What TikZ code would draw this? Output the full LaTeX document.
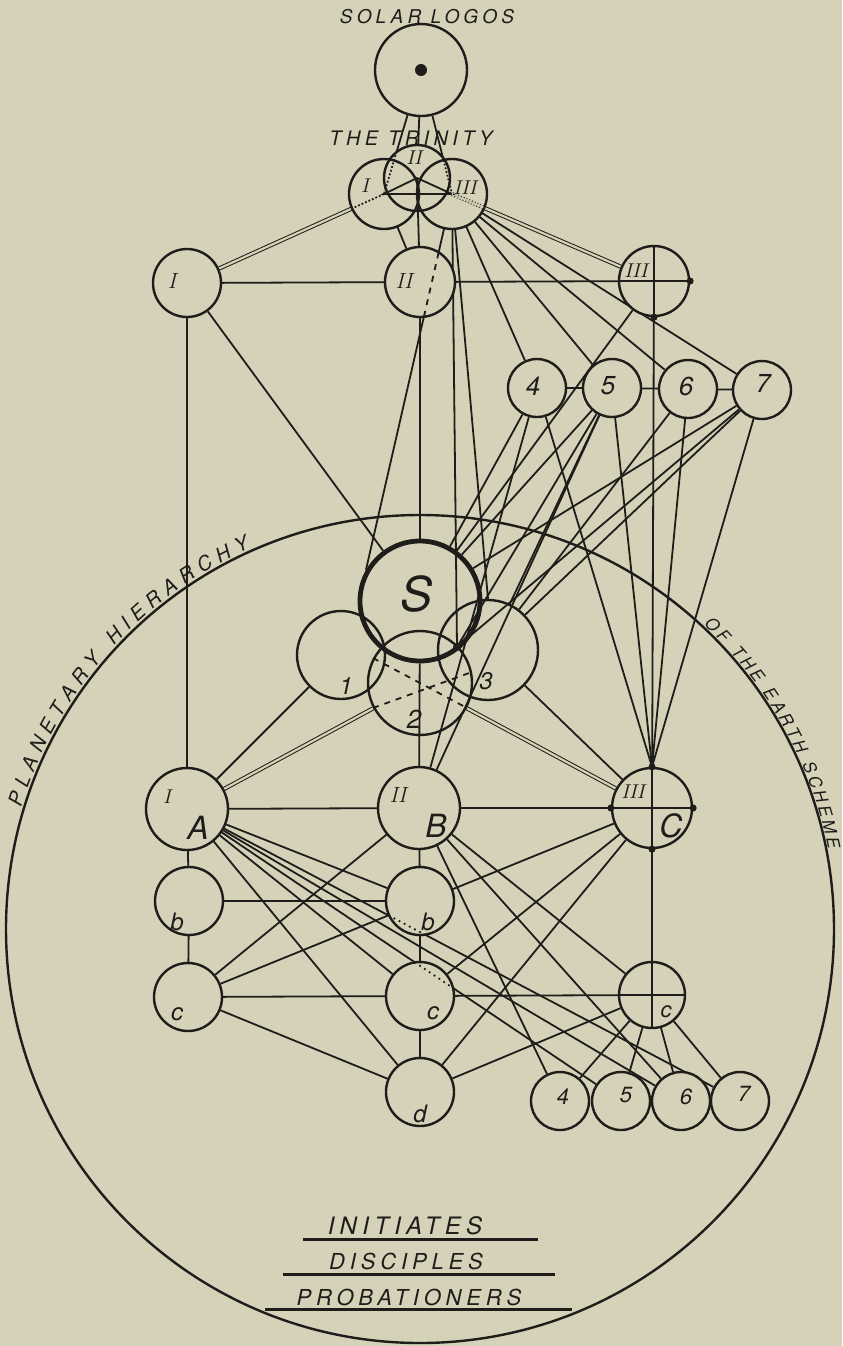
\documentclass[tikz,border=0pt]{standalone}
\usepackage{fontspec}
\newfontfamily\hand{TeX Gyre Heros}[LetterSpace=22]
\newfontfamily\glyph{TeX Gyre Heros}
\usetikzlibrary{decorations.text}
\definecolor{paper}{RGB}{213,210,185}
\definecolor{ink}{RGB}{30,29,25}
\pgfdeclarelayer{sheet}
\pgfdeclarelayer{wires}
\pgfdeclarelayer{veil}
\pgfsetlayers{sheet,wires,veil,main}
\tikzset{
  orb/.style={circle,draw=ink,fill=paper,line width=1.2pt,inner sep=0pt,minimum size=#1},
  ring/.style={circle,draw=ink,line width=1.2pt,inner sep=0pt,minimum size=#1},
  wire/.style={draw=ink,line width=0.9pt},
  twin/.style={draw=ink,line width=0.5pt,double=paper,double distance=1.1pt},
  hub/.style={circle,fill=ink,inner sep=0pt,minimum size=#1},
  tag/.style={text=ink,inner sep=0pt,font=\glyph\itshape\fontsize{#1}{#1}\selectfont},
  numeral/.style={text=ink,inner sep=0pt,font=\rmfamily\itshape\fontsize{#1}{#1}\selectfont},
  caption/.style={text=ink,inner sep=0pt,font=\hand\itshape\fontsize{#1}{#1}\selectfont}
}
\begin{document}
\begin{tikzpicture}[x=0.5pt,y=0.5pt]
  \useasboundingbox (0,0) rectangle (842,-1346);
  \begin{pgfonlayer}{sheet}
    \fill[paper] (0,0) rectangle (842,-1346);
    \draw[ink,line width=1.2pt] (420,-929) circle[radius=414];
    \path[decorate,decoration={text along path,text align=fit to path,raise=1.5pt,text color=ink,
      text={|\glyph\itshape\fontsize{10pt}{10pt}\selectfont|PLANETARY HIERARCHY}}]
      (24.1,-808) arc[start angle=163,end angle=114,radius=414];
    \path[decorate,decoration={text along path,text align=fit to path,raise=1pt,text color=ink,
      text={|\glyph\itshape\fontsize{8.5pt}{8.5pt}\selectfont|OF THE EARTH SCHEME}}]
      (702.3,-626.2) arc[start angle=47,end angle=11,radius=414];
  \end{pgfonlayer}

  \node[orb=46pt] (sol) at (421,-70) {};
  \node[hub=6pt] (core) at (421,-70) {};
  \foreach \n/\x/\y/\r in {tri1/384/194/35,tri2/417/178/33,tri3/452/194/35}
    \node[ring=\r pt] (\n) at (\x,-\y) {};
  \foreach \n/\x/\y/\r in {n1/187/283/34,n2/420/282/35,n3/654/281/35,
      r4/537/388/29,r5/612/388/29,r6/688/389/29,r7/762/390/29,
      a/187/809/41,b/419/808/41,c/652/808/40,
      bl/189/901/34,bc/420/901/34,cl/188/997/34,cc/420/996/34,cr/652/995/33,d/420/1092/34,
      s4/560/1101/29,s5/621/1101/29,s6/681/1101/29,s7/740/1101/29}
    \node[orb=\r pt] (\n) at (\x,-\y) {};
  \node[ring=60pt,line width=2.4pt] (s) at (420,-601) {};
  \foreach \n/\x/\y/\r in {c1/341/655/44,c3/488/650/50,c2/420/683/52}
    \node[ring=\r pt] (\n) at (\x,-\y) {};
  \coordinate (jn) at (457,-647);

  \begin{pgfonlayer}{wires}
    \foreach \t in {tri1,tri2,tri3} \draw[wire] (sol) -- (\t.center);
    \draw[twin] (tri1.center) -- (n1);
    \draw[twin] (tri3.center) -- (n3);
    \draw[wire] (tri1.center) -- (n2);
    \foreach \t in {r4,r5,r6,r7,s.150,jn,c3.north} \draw[wire] (tri3.center) -- (\t);
    \foreach \p/\q in {n1/n2,n2/n3,n1/a,n1/s,n2/s,n3/s,n3/c,r4/r5,r5/r6,r6/r7,
        r4/b,r4/s,r5/s,r5/jn,r5/c3,r5/b,r6/c3,r7/s,r7/jn,r7/c3,s/b,c1/a,c3/c,
        a/b,b/c,a/bl,bl/cl,bl/bc,b/bc,bc/cc,cc/d,cl/cc,cc/cr,c/cr,cl/d,d/cr,d/c,
        cl/b,cl/c,c/cc,a/bc,a/cc,a/d,a/s5,a/s6,a/s7,b/s4,b/s6,b/cr,cr/s4,cr/s5,cr/s6,cr/s7}
      \draw[wire] (\p) -- (\q);
    \foreach \r in {r4,r5,r6,r7} \draw[wire] (\r) -- (c.north);
    \draw[twin] (c2) -- (a);
    \draw[twin] (c2) -- (c);
  \end{pgfonlayer}

  \begin{pgfonlayer}{veil}
    \fill[paper] (tri1.center) circle[radius=35] (tri2.center) circle[radius=33] (tri3.center) circle[radius=35];
  \end{pgfonlayer}

  \draw[wire] (tri1.center) -- (tri2.center) -- (tri3.center) -- cycle;
  \draw[wire] (tri2.center) -- (n2);
  \begin{scope}
    \clip (tri1.center) circle[radius=35] (tri2.center) circle[radius=33] (tri3.center) circle[radius=35];
    \draw[wire,densely dotted] (sol) -- (tri1.center) (sol) -- (tri3.center);
    \draw[wire,densely dotted] (tri1.center) -- (n1);
    \draw[twin,densely dotted] (tri3.center) -- (n3);
  \end{scope}
  \begin{scope}
    \clip (n2.center) circle[radius=35];
    \draw[wire,dashed] (tri3.center) -- (s.150);
  \end{scope}
  \begin{scope}
    \clip (bc.center) circle[radius=34];
    \draw[wire,dotted] (a) -- (s7);
  \end{scope}
  \begin{scope}
    \clip (cc.center) circle[radius=34];
    \draw[wire,dotted] (a) -- (s5);
  \end{scope}
  \draw[wire,dashed] (c2.208) -- (c2.12) (c2.152) -- (c2.332);
  \draw[wire] (n3.north) -- (n3.south) (n3.west) -- (n3.east);
  \draw[wire] (c.north) -- (c.south) (c.west) -- (c.east);
  \draw[wire] (cr.north) -- (cr.south) (cr.west) -- (cr.east);
  \foreach \p [count=\i] in {n3.south,n3.east,c.north,c.south,c.west,c.east}
    \node[hub=3.5pt] (dot\i) at (\p) {};
  \node[hub=4pt] (jdot) at (jn) {};

  \node[caption=9.5pt] (solarcap) at (427,-17) {SOLAR LOGOS};
  \node[caption=10pt] (tricap) at (411,-138) {THE TRINITY};
  \foreach \n/\x/\y/\s/\t in {t1lab/365/186/10pt/I,t2lab/414/158/10pt/II,t3lab/465/188/10pt/III,
      n1lab/172/281/11pt/I,n2lab/404/281/11pt/II,n3lab/636/271/10pt/III,
      aroman/167/797/10pt/I,broman/398/795/11pt/II,croman/633/792/10pt/III}
    \node[numeral=\s] (\n) at (\x,-\y) {\t};
  \foreach \n/\x/\y/\s/\t in {r4lab/533/386/13pt/4,r5lab/608/386/13pt/5,r6lab/686/386/13pt/6,r7lab/763/383/13pt/7,
      slab/417/594/24pt/S,c1lab/346/686/12pt/1,c3lab/486/681/12pt/3,c2lab/414/719/13pt/2,
      alab/198/828/16pt/A,blab/436/826/16pt/B,clab/671/826/16pt/C,
      bllab/177/922/12pt/b,bclab/428/922/12pt/b,cllab/177/1014/12pt/c,cclab/433/1013/12pt/c,
      crlab/666/1012/11pt/c,dlab/420/1114/12pt/d,
      s4lab/563/1097/11pt/4,s5lab/626/1095/11pt/5,s6lab/686/1097/11pt/6,s7lab/744/1094/11pt/7}
    \node[tag=\s] (\n) at (\x,-\y) {\t};

  \node[caption=12pt] (initcap) at (405,-1226) {INITIATES};
  \node[caption=11pt] (disccap) at (406,-1261) {DISCIPLES};
  \node[caption=11pt] (probcap) at (409,-1297) {PROBATIONERS};
  \draw[ink,line width=1.5pt] (303,-1239) -- (538,-1239);
  \draw[ink,line width=1.5pt] (283,-1274) -- (555,-1274);
  \draw[ink,line width=1.5pt] (265,-1309) -- (572,-1309);
\end{tikzpicture}
\end{document}
